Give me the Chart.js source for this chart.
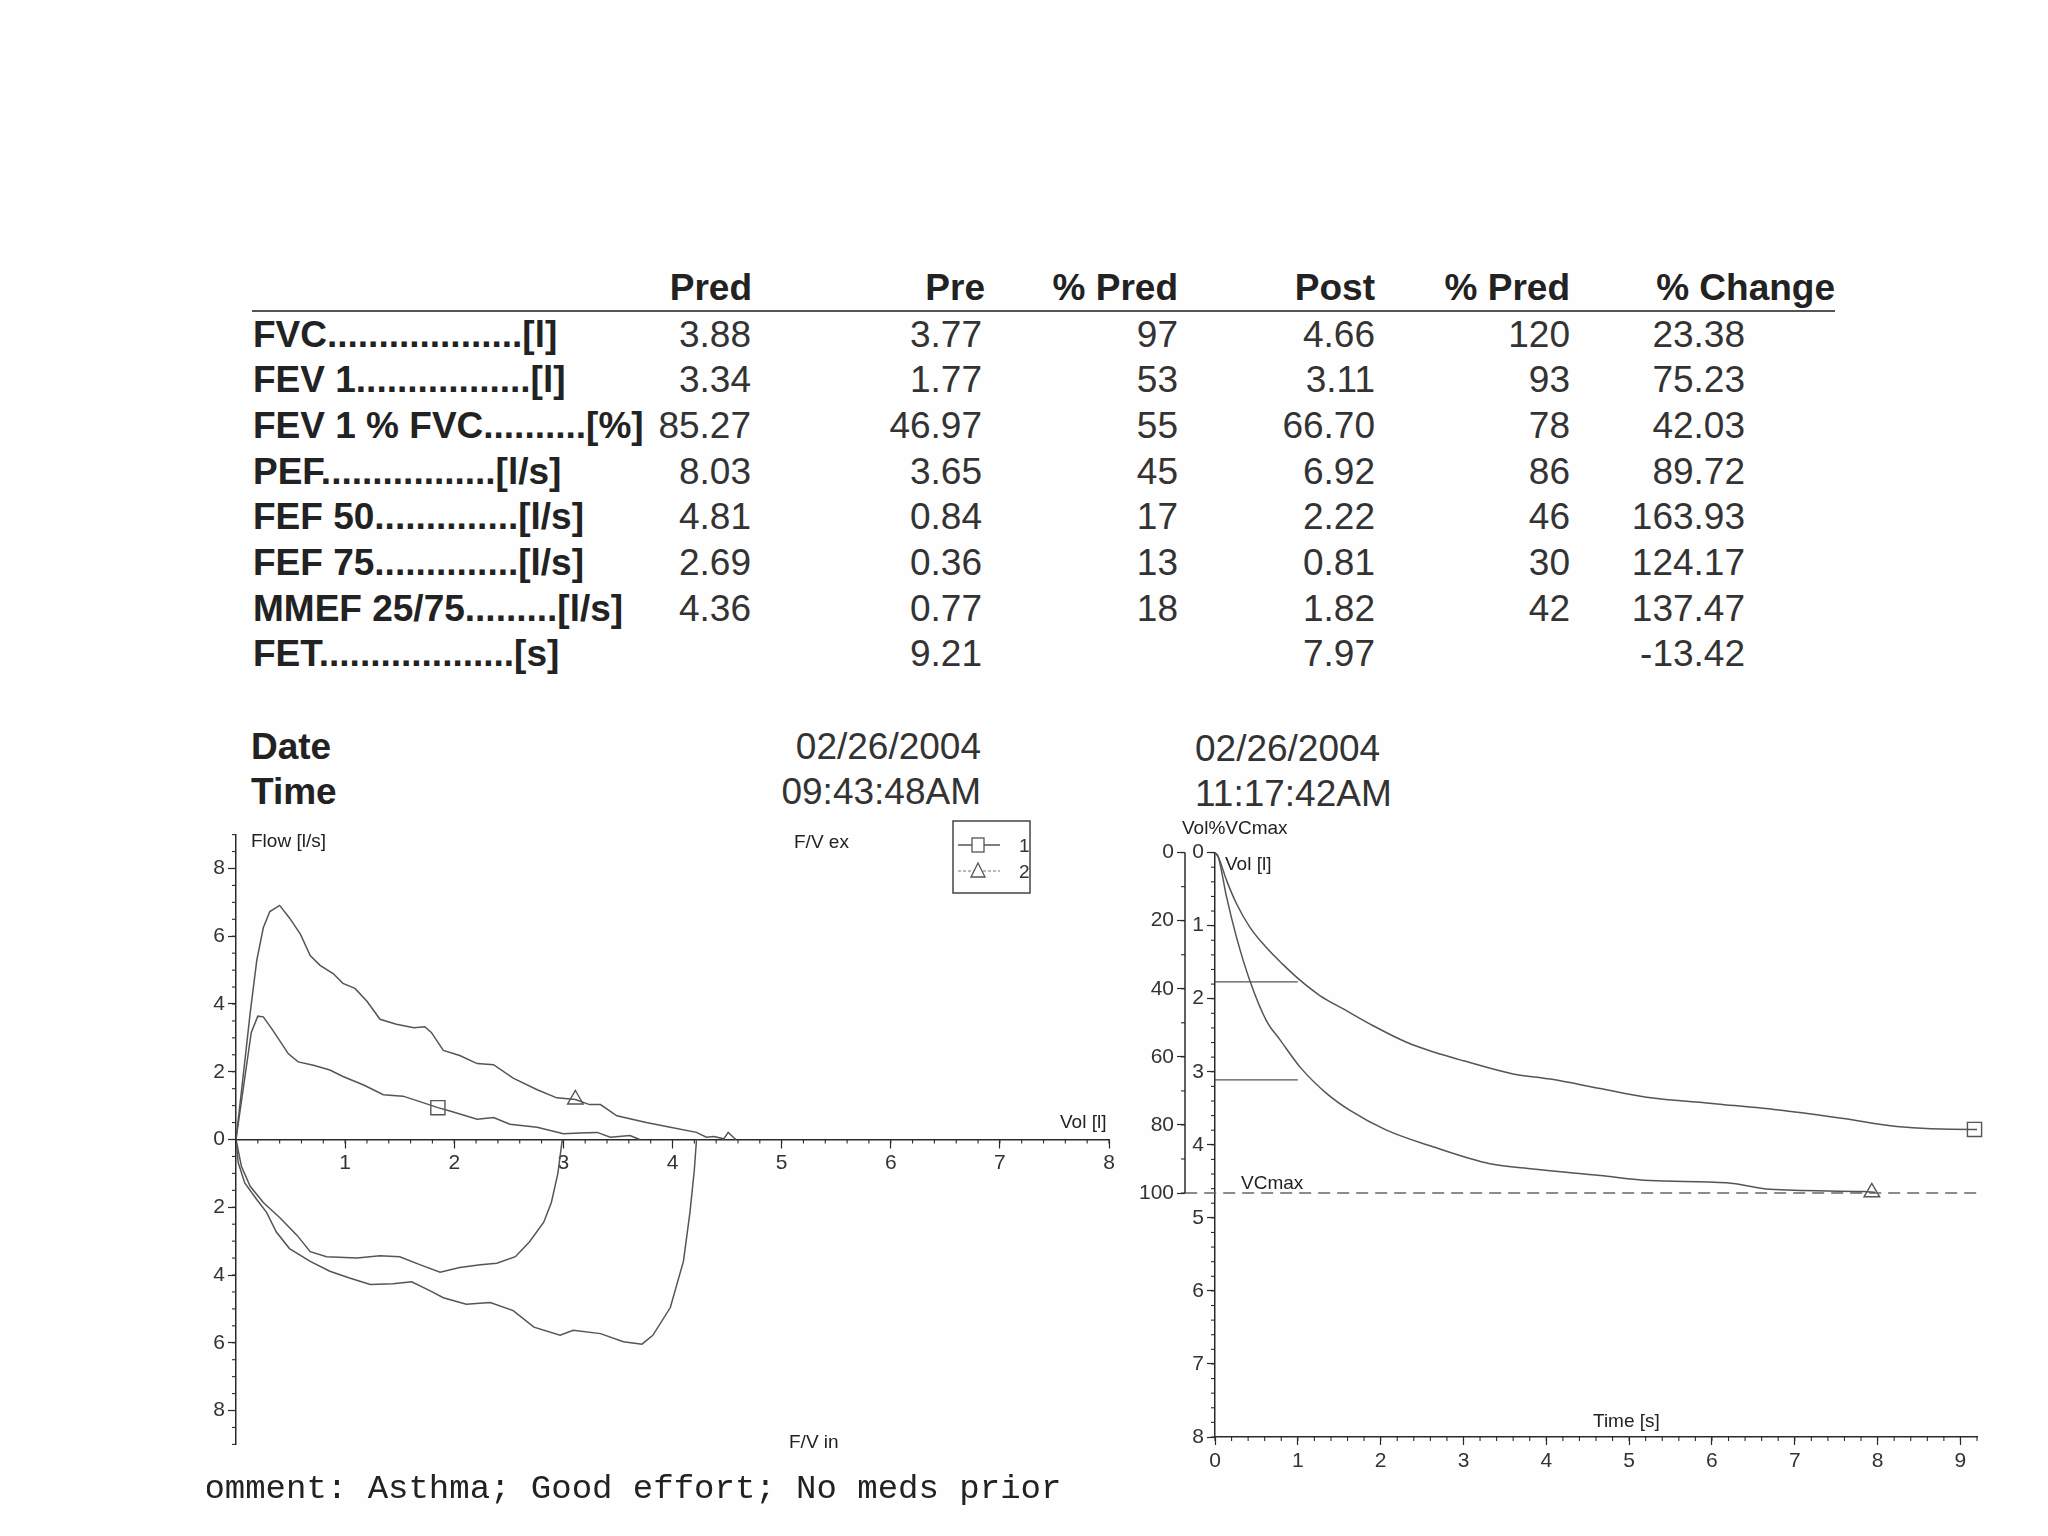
<!DOCTYPE html>
<html>
<head>
<meta charset="utf-8">
<script src="https://cdn.jsdelivr.net/npm/chart.js@4.4.1/dist/chart.umd.min.js"></script>
<style>
  html, body { margin: 0; padding: 0; background: #fefefe; }
  #page { position: relative; width: 2048px; height: 1536px; overflow: hidden; background: #fefefe;
          font-family: "Liberation Sans", Arial, sans-serif; color: #222; }
  .t { position: absolute; white-space: nowrap; line-height: 1; }
  .box { position: absolute; }
  #comment { position: absolute; left: 207px; top: 1471px; width: 1000px; height: 42px; overflow: hidden; }
  #comment span { position: absolute; left: -23px; top: 0; white-space: pre;
                  font-family: "Liberation Mono", "Courier New", monospace; font-size: 34px; line-height: 1.1; color: #222; }
</style>
</head>
<body>
<div id="page">
  <div class="box" style="left:196px; top:819px; width:933px; height:641px;"><canvas id="fvChart"></canvas></div>
  <div class="box" style="left:1137px; top:837px; width:860px; height:640px;"><canvas id="vtChart"></canvas></div>
  <div id="comment"><span>Comment: Asthma; Good effort; No meds prior</span></div>
</div>
<script>
// ---------- table data ----------
const headers = ["Pred", "Pre", "% Pred", "Post", "% Pred", "% Change"];
const rowLabels = ["FVC", "FEV 1", "FEV 1 % FVC", "PEF", "FEF 50", "FEF 75", "MMEF 25/75", "FET"];
const rowUnits = ["[l]", "[l]", "[%]", "[l/s]", "[l/s]", "[l/s]", "[l/s]", "[s]"];
const predVals = ["3.88", "3.34", "85.27", "8.03", "4.81", "2.69", "4.36", ""];
const preVals = ["3.77", "1.77", "46.97", "3.65", "0.84", "0.36", "0.77", "9.21"];
const prePctPred = ["97", "53", "55", "45", "17", "13", "18", ""];
const postVals = ["4.66", "3.11", "66.70", "6.92", "2.22", "0.81", "1.82", "7.97"];
const postPctPred = ["120", "93", "78", "86", "46", "30", "42", ""];
const pctChange = ["23.38", "75.23", "42.03", "89.72", "163.93", "124.17", "137.47", "-13.42"];

const dateLabels = ["Date", "Time"];
const preDateTime = ["02/26/2004", "09:43:48AM"];
const postDateTime = ["02/26/2004", "11:17:42AM"];

// ---------- flow / volume loops (Vol [l], Flow [l/s]) ----------
const preExpVol  = [0, 0.08, 0.14, 0.2, 0.25, 0.33, 0.4, 0.48, 0.57, 0.71, 0.86, 0.98, 1.17, 1.35, 1.53, 1.72, 1.85, 1.96, 2.21, 2.36, 2.51, 2.76, 3.0, 3.15, 3.31, 3.43, 3.61, 3.7];
const preExpFlow = [0, 1.81, 3.16, 3.64, 3.62, 3.26, 2.92, 2.53, 2.29, 2.19, 2.05, 1.86, 1.61, 1.32, 1.28, 1.08, 0.94, 0.84, 0.6, 0.65, 0.45, 0.36, 0.17, 0.19, 0.21, 0.07, 0.12, 0];
const postExpVol  = [0, 0.07, 0.13, 0.19, 0.25, 0.31, 0.4, 0.49, 0.59, 0.68, 0.77, 0.89, 0.98, 1.09, 1.2, 1.32, 1.47, 1.63, 1.73, 1.79, 1.9, 2.05, 2.21, 2.36, 2.54, 2.76, 2.94, 3.11, 3.24, 3.34, 3.49, 3.76, 3.98, 4.22, 4.31, 4.38, 4.47, 4.51, 4.58];
const postExpFlow = [0, 2.0, 3.74, 5.28, 6.25, 6.73, 6.91, 6.54, 6.06, 5.43, 5.14, 4.9, 4.61, 4.46, 4.08, 3.55, 3.4, 3.3, 3.33, 3.16, 2.63, 2.48, 2.24, 2.21, 1.81, 1.47, 1.23, 1.18, 1.03, 1.03, 0.7, 0.5, 0.36, 0.21, 0.07, 0.09, 0.02, 0.21, 0];
const preInVol  = [0, 0.05, 0.13, 0.25, 0.4, 0.56, 0.68, 0.83, 1.11, 1.32, 1.5, 1.69, 1.87, 2.05, 2.24, 2.39, 2.56, 2.69, 2.82, 2.89, 2.95, 2.99];
const preInFlow = [0, -0.8, -1.38, -1.86, -2.3, -2.83, -3.31, -3.46, -3.5, -3.43, -3.46, -3.7, -3.92, -3.78, -3.7, -3.65, -3.46, -3.02, -2.44, -1.86, -0.99, 0];
const postInVol  = [0, 0.02, 0.08, 0.19, 0.28, 0.37, 0.49, 0.68, 0.86, 1.04, 1.23, 1.44, 1.61, 1.78, 1.9, 2.11, 2.33, 2.54, 2.73, 2.97, 3.09, 3.34, 3.55, 3.72, 3.82, 3.98, 4.1, 4.16, 4.2, 4.22];
const postInFlow = [0, -0.68, -1.28, -1.77, -2.15, -2.73, -3.22, -3.6, -3.89, -4.09, -4.28, -4.26, -4.2, -4.47, -4.67, -4.86, -4.81, -5.05, -5.54, -5.78, -5.63, -5.73, -5.97, -6.04, -5.78, -4.96, -3.6, -2.15, -0.9, 0];
const preFvMarker = [1.85, 0.94];
const postFvMarker = [3.11, 1.18];
const fvVolTicks = [1, 2, 3, 4, 5, 6, 7, 8];
const fvFlowTicks = [-8, -6, -4, -2, 0, 2, 4, 6, 8];

// ---------- volume / time (Time [s], Vol [l]) ----------
const preTime = [0, 0.04, 0.14, 0.26, 0.42, 0.62, 0.81, 1.03, 1.27, 1.55, 1.91, 2.32, 2.64, 3.0, 3.6, 4.05, 4.65, 5.21, 6.06, 6.86, 7.59, 8.23, 9.14, 9.21];
const preVol  = [0, 0.06, 0.38, 0.7, 1.02, 1.3, 1.52, 1.75, 1.96, 2.14, 2.37, 2.6, 2.73, 2.85, 3.03, 3.1, 3.23, 3.35, 3.44, 3.53, 3.64, 3.75, 3.79, 3.79];
const postTime = [0, 0.04, 0.14, 0.26, 0.42, 0.62, 0.79, 1.03, 1.35, 1.63, 2.07, 2.64, 3.32, 3.84, 4.65, 5.25, 6.18, 6.7, 7.83, 7.97];
const postVol  = [0, 0.06, 0.61, 1.16, 1.75, 2.3, 2.57, 2.94, 3.3, 3.53, 3.8, 4.03, 4.26, 4.33, 4.42, 4.49, 4.52, 4.61, 4.64, 4.65];
const fev1Times = [0, 1.0];
const vcmaxTimes = [-0.36, 9.2];
const preVtMarker = [9.17, 3.79];
const postVtMarker = [7.93, 4.65];
const timeTicks = [0, 1, 2, 3, 4, 5, 6, 7, 8, 9];
const volTicks = [0, 1, 2, 3, 4, 5, 6, 7, 8];
const pctTicks = [0, 20, 40, 60, 80, 100];

const VCMAX = parseFloat(postVals[0]);
const FEV1_PRE = parseFloat(preVals[1]);
const FEV1_POST = parseFloat(postVals[1]);

// ---------- page text ----------
const page = document.getElementById("page");
function put(text, x, yc, size, o) {
    o = o || {};
    const d = document.createElement("div");
    d.className = "t";
    d.textContent = text;
    d.style.fontSize = size + "px";
    d.style.top = (yc - size * 0.5) + "px";
    if (o.align === "right") d.style.right = (2048 - x) + "px";
    else d.style.left = x + "px";
    if (o.bold) d.style.fontWeight = "bold";
    if (o.family) d.style.fontFamily = o.family;
    if (o.color) d.style.color = o.color;
    d.style.zIndex = 5;
    page.appendChild(d);
    return d;
}

const headerRight = [752, 985, 1178, 1375, 1570, 1835];
headers.forEach((h, i) => put(h, headerRight[i], 287, 37, { bold: true, align: "right" }));
const rule = document.createElement("div");
rule.style.cssText = "position:absolute;left:252px;top:310px;width:1583px;height:2px;background:#555;";
page.appendChild(rule);

const dotCounts = [19, 17, 10, 17, 14, 14, 9, 19];
const colRight = [751, 982, 1178, 1375, 1570, 1745];
const columns = [predVals, preVals, prePctPred, postVals, postPctPred, pctChange];
rowLabels.forEach((lab, i) => {
    const y = 334 + i * 45.7;
    put(lab + ".".repeat(dotCounts[i]) + rowUnits[i], 253, y, 37, { bold: true });
    columns.forEach((col, c) => {
        if (col[i] !== "") put(col[i], colRight[c], y, 37, { align: "right", color: "#333" });
    });
});

dateLabels.forEach((lab, i) => {
    const y = 746 + i * 45.5;
    put(lab, 251, y, 37, { bold: true });
    put(preDateTime[i], 981, y, 37, { align: "right", color: "#333" });
    put(postDateTime[i], 1195, y + 2, 37, { color: "#333" });
});

const NARROW = '"Liberation Sans Narrow", "Liberation Sans", Arial, sans-serif';
put("Flow [l/s]", 251, 840, 19, { family: NARROW });
put("F/V ex", 794, 841, 19, { family: NARROW });
put("Vol [l]", 1060, 1121, 19, { family: NARROW });
put("F/V in", 789, 1441, 19, { family: NARROW });
put("Vol%VCmax", 1182, 827, 19, { family: NARROW });
put("Vol [l]", 1225, 863, 19, { family: NARROW });
put("Time [s]", 1593, 1420, 19, { family: NARROW });
put("VCmax", 1241, 1182, 19, { family: NARROW });

// legend box
const legend = document.createElement("div");
legend.style.cssText = "position:absolute;left:952px;top:820px;z-index:6;";
legend.innerHTML =
    '<svg width="80" height="75" xmlns="http://www.w3.org/2000/svg">' +
    '<rect x="1" y="1" width="77" height="72" fill="none" stroke="#444" stroke-width="1.5"/>' +
    '<line x1="6" y1="25" x2="48" y2="25" stroke="#555" stroke-width="1.3"/>' +
    '<rect x="20" y="18" width="12" height="14" fill="#fefefe" stroke="#555" stroke-width="1.3"/>' +
    '<text x="67" y="32" font-family="Liberation Sans Narrow, Liberation Sans, Arial" font-size="19" fill="#333">1</text>' +
    '<line x1="6" y1="51" x2="48" y2="51" stroke="#777" stroke-width="1.1" stroke-dasharray="3 2"/>' +
    '<polygon points="26,43 33,57 19,57" fill="#fefefe" stroke="#555" stroke-width="1.3"/>' +
    '<text x="67" y="58" font-family="Liberation Sans Narrow, Liberation Sans, Arial" font-size="19" fill="#333">2</text>' +
    '</svg>';
page.appendChild(legend);

// ---------- charts ----------
const AXIS = "#2a2a2a";
const CURVE = "#555555";
const TICK_FONT = { family: NARROW, size: 21 };

function pts(xs, ys) { return xs.map((x, i) => ({ x: x, y: ys[i] })); }
function curve(xs, ys, extra) {
    return Object.assign({ data: pts(xs, ys), showLine: true, borderColor: CURVE, borderWidth: 1.5,
                           pointRadius: 0, tension: 0, fill: false }, extra || {});
}
function marker(p, style, r) {
    return { data: [{ x: p[0], y: p[1] }], showLine: false, pointStyle: style, pointRadius: r,
             borderColor: CURVE, borderWidth: 1.4, backgroundColor: "rgba(255,255,255,0)" };
}
function setTicks(vals) { return s => { s.ticks = vals.map(v => ({ value: v })); }; }

// small minor ticks, placed through the scales
function minorTicks(list) {
    return {
        id: "minorTicks",
        afterDraw(chart) {
            const ctx = chart.ctx;
            ctx.save();
            ctx.strokeStyle = AXIS;
            ctx.lineWidth = 1.1;
            list.forEach(m => {
                const s = chart.scales[m.id];
                const n = Math.round((m.to - m.from) / m.step);
                for (let k = 0; k <= n; k++) {
                    const p = s.getPixelForValue(m.from + k * m.step);
                    ctx.beginPath();
                    if (s.isHorizontal()) {
                        const y = m.at ? chart.scales[m.at[0]].getPixelForValue(m.at[1]) : s.top;
                        ctx.moveTo(p, y); ctx.lineTo(p, y + 4);
                    } else {
                        ctx.moveTo(s.right - 4, p); ctx.lineTo(s.right, p);
                    }
                    ctx.stroke();
                }
            });
            if (chart.scales.y2) {
                const s = chart.scales.y2;
                ctx.lineWidth = 1.5;
                ctx.beginPath();
                ctx.moveTo(s.right, s.getPixelForValue(0));
                ctx.lineTo(s.right, s.getPixelForValue(100));
                ctx.stroke();
            }
            ctx.restore();
        }
    };
}

const axisBase = {
    type: "linear",
    border: { color: AXIS, width: 1.5 },
    grid: { drawOnChartArea: false, tickLength: 8, tickColor: AXIS, tickWidth: 1.2 },
};

new Chart(document.getElementById("fvChart"), {
    type: "scatter",
    data: {
        datasets: [
            curve(preExpVol, preExpFlow),
            curve(postExpVol, postExpFlow),
            curve(preInVol, preInFlow),
            curve(postInVol, postInFlow),
            marker(preFvMarker, "rect", 10),
            marker(postFvMarker, "triangle", 9)
        ]
    },
    options: {
        animation: false,
        responsive: true,
        maintainAspectRatio: false,
        layout: { padding: { top: 10, right: 20, bottom: 10, left: 0 } },
        plugins: { legend: { display: false }, tooltip: { enabled: false } },
        scales: {
            x: Object.assign({}, axisBase, {
                min: 0, max: 8, position: { y: 0 },
                ticks: { font: TICK_FONT, color: "#333", padding: 3, maxRotation: 0, autoSkip: false, callback: v => v },
                afterBuildTicks: setTicks(fvVolTicks)
            }),
            y: Object.assign({}, axisBase, {
                min: -9, max: 9, position: "left",
                ticks: { font: TICK_FONT, color: "#333", padding: 3, autoSkip: false, callback: v => Math.abs(v) },
                afterBuildTicks: setTicks(fvFlowTicks),
                afterFit: s => { s.width = 40; }
            })
        }
    },
    plugins: [minorTicks([
        { id: "x", from: 0, to: 8, step: 0.2, at: ["y", 0] },
        { id: "y", from: -9, to: 9, step: 0.5 }
    ])]
});

new Chart(document.getElementById("vtChart"), {
    type: "scatter",
    data: {
        datasets: [
            curve(preTime, preVol, { yAxisID: "y", cubicInterpolationMode: "monotone" }),
            curve(postTime, postVol, { yAxisID: "y", cubicInterpolationMode: "monotone" }),
            curve(vcmaxTimes, [VCMAX, VCMAX], { yAxisID: "y", borderDash: [12, 7], borderWidth: 1.4, borderColor: "#666", clip: false }),
            curve(fev1Times, [FEV1_PRE, FEV1_PRE], { yAxisID: "y", borderWidth: 1.3 }),
            curve(fev1Times, [FEV1_POST, FEV1_POST], { yAxisID: "y", borderWidth: 1.3 }),
            Object.assign(marker(preVtMarker, "rect", 10), { yAxisID: "y", clip: false }),
            Object.assign(marker(postVtMarker, "triangle", 9), { yAxisID: "y" })
        ]
    },
    options: {
        animation: false,
        responsive: true,
        maintainAspectRatio: false,
        layout: { padding: { top: 15, right: 20, bottom: 0, left: 0 } },
        plugins: { legend: { display: false }, tooltip: { enabled: false } },
        scales: {
            x: Object.assign({}, axisBase, {
                min: 0, max: 9.2, position: "bottom",
                ticks: { font: TICK_FONT, color: "#333", padding: 4, maxRotation: 0, autoSkip: false, callback: v => v },
                afterBuildTicks: setTicks(timeTicks),
                afterFit: s => { s.height = 40; }
            }),
            y: Object.assign({}, axisBase, {
                min: 0, max: 8, reverse: true, position: "left", weight: 0,
                ticks: { font: TICK_FONT, color: "#333", padding: 3, autoSkip: false, callback: v => v },
                afterBuildTicks: setTicks(volTicks),
                afterFit: s => { s.width = 30; }
            }),
            y2: Object.assign({}, axisBase, {
                min: 0, max: 100 * 8 / VCMAX, reverse: true, position: "left", weight: 1,
                border: { display: false },
                ticks: { font: TICK_FONT, color: "#333", padding: 3, autoSkip: false, callback: v => v },
                afterBuildTicks: setTicks(pctTicks),
                afterFit: s => { s.width = 48; }
            })
        }
    },
    plugins: [minorTicks([
        { id: "x", from: 0, to: 9.2, step: 0.2 },
        { id: "y", from: 0, to: 8, step: 0.2 },
        { id: "y2", from: 0, to: 100, step: 10 }
    ])]
});
</script>
</body>
</html>
